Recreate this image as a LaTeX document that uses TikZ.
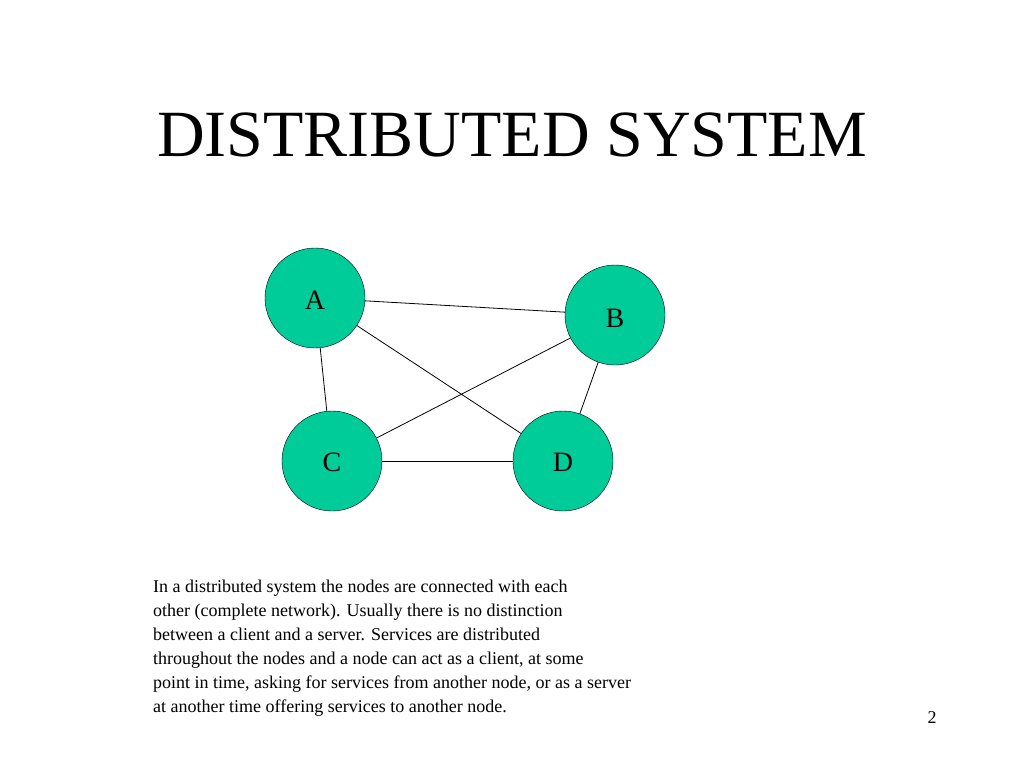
\documentclass[tikz,border=0pt]{standalone}
\usepackage{fontspec}
\setmainfont{Liberation Serif}
\definecolor{nodegreen}{HTML}{00CC99}
\begin{document}
\begin{tikzpicture}[x=1pt,y=-1pt,
  vert/.style={circle,draw=black,fill=nodegreen,minimum size=100pt,inner sep=0pt,font=\fontsize{28}{32}\selectfont},
  link/.style={draw=black,line width=0.8pt}]
\useasboundingbox (0,0) rectangle (1024,768);
\node[font=\fontsize{66}{72}\selectfont] (title) at (512,135) {DISTRIBUTED SYSTEM};
\node[vert] (A) at (315,298) {};
\node[vert] (B) at (615,315) {};
\node[vert] (C) at (332,461) {};
\node[vert] (D) at (563,461) {};
\node[font=\fontsize{28}{32}\selectfont] (la) at (315,300) {A};
\node[font=\fontsize{28}{32}\selectfont] (lb) at (615,318) {B};
\node[font=\fontsize{28}{32}\selectfont] (lc) at (332,462) {C};
\node[font=\fontsize{28}{32}\selectfont] (ld) at (563,462) {D};
\draw[link] (A) -- (B);
\draw[link] (A) -- (C);
\draw[link] (A) -- (D);
\draw[link] (B) -- (C);
\draw[link] (B) -- (D);
\draw[link] (C) -- (D);
\node[anchor=north west,align=left,inner sep=0pt,font=\fontsize{18}{24}\selectfont] (txt) at (153,580) {In a distributed system the nodes are connected with each\\
other (complete network). Usually there is no distinction\\
between a client and a server. Services are distributed\\
throughout the nodes and a node can act as a client, at some\\
point in time, asking for services from another node, or as a server\\
at another time offering services to another node.};
\node[font=\fontsize{18}{22}\selectfont] (pg) at (932,718) {2};
\end{tikzpicture}
\end{document}
